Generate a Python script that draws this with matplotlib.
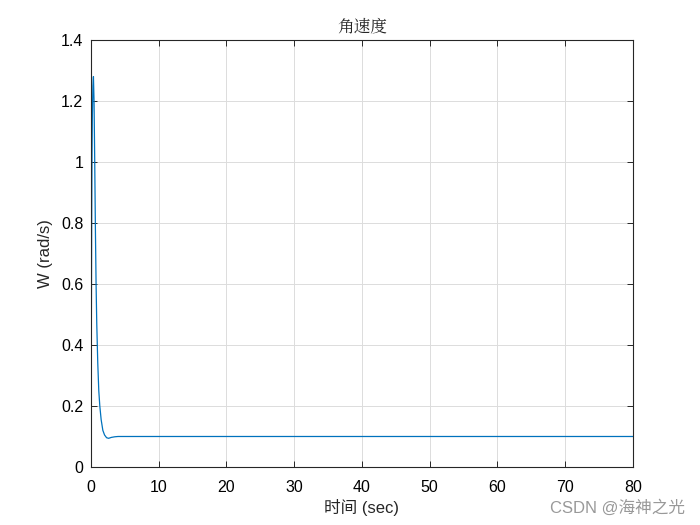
import matplotlib
matplotlib.use("Agg")
import matplotlib.pyplot as plt
import numpy as np

plt.rcParams['font.family'] = ['Liberation Sans', 'Noto Sans CJK SC', 'DejaVu Sans']

t_points = [0.0, 0.05, 0.1, 0.15, 0.2, 0.28, 0.36, 0.45, 0.55, 0.65, 0.75, 0.85,
            1.0, 1.15, 1.3, 1.5, 1.75, 2.0, 2.3, 2.6, 3.0, 3.5, 4.0, 6.0, 80.0]
w_points = [0.0, 0.45, 0.8, 1.02, 1.15, 1.25, 1.28, 1.2, 1.0, 0.78, 0.6, 0.47,
            0.34, 0.25, 0.2, 0.155, 0.12, 0.105, 0.096, 0.094, 0.097, 0.099, 0.1, 0.1, 0.1]

x_ticks = [0, 10, 20, 30, 40, 50, 60, 70, 80]
y_ticks = [0, 0.2, 0.4, 0.6, 0.8, 1.0, 1.2, 1.4]
y_labels = ['0', '0.2', '0.4', '0.6', '0.8', '1', '1.2', '1.4']

fig = plt.figure(figsize=(7, 5.25), dpi=100)
ax = fig.add_axes([0.13, 0.1105, 0.774, 0.8133])
ax.plot(t_points, w_points, color='#0072BD', linewidth=0.9)
ax.set_xlim(0, 80)
ax.set_ylim(0, 1.4)
ax.set_xticks(x_ticks)
ax.set_yticks(y_ticks)
ax.set_yticklabels(y_labels)
ax.grid(True, color='#dcdcdc', linewidth=0.7)
ax.tick_params(direction='in', top=True, right=True, labelsize=11.5, length=4, color='#262626', width=0.7)
ax.tick_params(axis='x', pad=9.5)
ax.tick_params(axis='y', pad=5.5)
for s in ax.spines.values():
    s.set_color('#262626')
    s.set_linewidth(0.8)
ax.set_xlabel('时间 (sec)', fontsize=12, color='#262626', labelpad=3)
ax.set_ylabel('W (rad/s)', fontsize=12, color='#262626', labelpad=6)
ax.set_title('角速度', fontsize=12, color='#262626', family=['Noto Serif CJK SC', 'Noto Sans CJK SC', 'DejaVu Sans'], pad=6)
fig.text(0.979, 0.018, 'CSDN @海神之光', ha='right', va='bottom', fontsize=12, color='#999999')
fig.savefig('out.png', dpi=100)
